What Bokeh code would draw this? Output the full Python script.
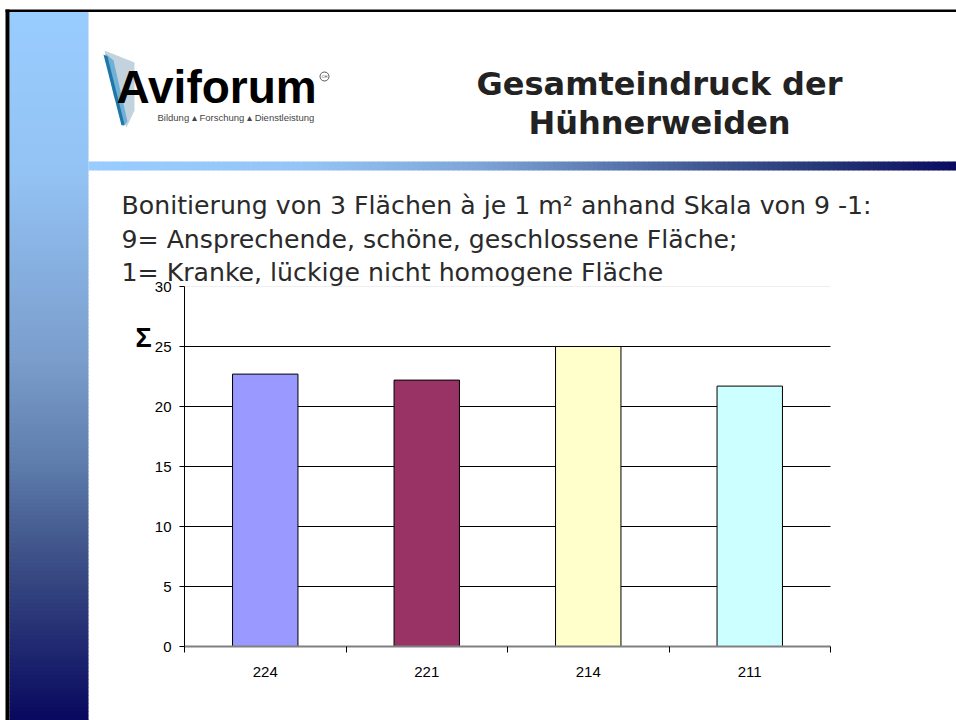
from bokeh.plotting import figure
from bokeh.models import (Range1d, FixedTicker, Label, LinearAxis, ColumnDataSource)
from bokeh.embed import file_html
from bokeh.resources import INLINE

# ---------------- data ----------------
categories = ["224", "221", "214", "211"]
values = [22.7, 22.2, 25.0, 21.7]
bar_colors = ["#9999FF", "#993366", "#FFFFCC", "#CCFFFF"]
y_ticks = [0, 5, 10, 15, 20, 25, 30]
grid_ticks = [5, 10, 15, 20, 25]

title_lines = ["Gesamteindruck der", "Hühnerweiden"]
body_lines = [
    "Bonitierung von 3 Flächen à je 1 m² anhand Skala von 9 -1:",
    "9= Ansprechende, schöne, geschlossene Fläche;",
    "1= Kranke, lückige nicht homogene Fläche",
]
axis_symbol = "Σ"
logo_name = "Aviforum"
logo_tagline = "Bildung ▴ Forschung ▴ Dienstleistung"
logo_badge = "CH"

# ---------------- geometry (page pixels) ----------------
PAGE_W, PAGE_H = 956, 720
FL, FR, FT, FB = 184, 830, 286, 646   # chart plot area on the page

n = len(categories)
y_max = y_ticks[-1]
centers = [i + 0.5 for i in range(n)]
bounds = list(range(n + 1))

# page coordinate system (y grows downward) for the slide decoration
p = figure(width=PAGE_W, height=PAGE_H,
           x_range=Range1d(0, PAGE_W), y_range=Range1d(PAGE_H, 0),
           output_backend="svg", toolbar_location=None,
           x_axis_location=None, y_axis_location=None,
           min_border=0, min_border_left=0, min_border_right=0,
           min_border_top=0, min_border_bottom=0)
p.outline_line_color = None
p.background_fill_color = "white"
p.border_fill_color = "white"
p.grid.visible = False

# chart coordinate system mapped onto the plot area
SX = (FR - FL) / n
SY = (FB - FT) / y_max
p.extra_x_ranges = {"cx": Range1d(-FL / SX, n + (PAGE_W - FR) / SX)}
p.extra_y_ranges = {"cy": Range1d(-(PAGE_H - FB) / SY, y_max + FT / SY)}

# ---------------- slide decorations ----------------
def hex2rgb(h):
    h = h.lstrip("#")
    return tuple(int(h[i:i + 2], 16) for i in (0, 2, 4))

def color_at(stops, t):
    for (t0, c0), (t1, c1) in zip(stops[:-1], stops[1:]):
        if t0 <= t <= t1:
            f = 0 if t1 == t0 else (t - t0) / (t1 - t0)
            a, b = hex2rgb(c0), hex2rgb(c1)
            return "#%02x%02x%02x" % tuple(round(a[k] + (b[k] - a[k]) * f) for k in range(3))
    return stops[-1][1]

L, R, T, B, C = [], [], [], [], []

# left vertical gradient bar
left_stops = [(11, "#99ccff"), (170, "#93c3f4"), (360, "#7a9dcc"), (460, "#5f7eae"),
              (560, "#3c4f86"), (720, "#08085e")]
y = 11
while y < PAGE_H:
    y2 = min(y + 4, PAGE_H)
    L.append(9); R.append(88); T.append(y); B.append(y2 + 0.6)
    C.append(color_at(left_stops, (y + y2) / 2))
    y = y2

# header horizontal gradient bar
head_stops = [(88, "#99ccff"), (300, "#95c5f6"), (480, "#7da4d6"), (713, "#3e5590"),
              (813, "#283a78"), (956, "#0a0a60")]
x = 88
while x < PAGE_W:
    x2 = min(x + 5, PAGE_W)
    L.append(x); R.append(x2 + 0.6); T.append(161); B.append(170)
    C.append(color_at(head_stops, (x + x2) / 2))
    x = x2

# slide border (top and left edges)
L += [5, 5]; R += [PAGE_W, 9]; T += [9, 9]; B += [11.5, PAGE_H]; C += ["#000000", "#000000"]

deco = ColumnDataSource(dict(left=L, right=R, top=T, bottom=B, color=C))
p.quad(left="left", right="right", top="top", bottom="bottom", source=deco,
       fill_color="color", line_color=None)

# logo swoosh
p.patches(xs=[[104, 134, 134, 126, 113], [105, 113, 127, 123], [103, 107, 124, 121]],
          ys=[[50, 62, 110, 127, 95], [53, 60, 121, 126], [54, 56, 124, 125]],
          fill_color=["#c3d3de", "#6fb0d6", "#1f76a8"], line_color=None)

def mid(baseline, size, k=0.35):
    return baseline - k * size

p.add_layout(Label(x=116, y=mid(103, 46), text=logo_name, text_font="Liberation Sans",
                   text_font_style="bold", text_font_size="46px", text_color="#000000",
                   text_align="left", text_baseline="middle"))
p.add_layout(Label(x=157, y=mid(120, 9.5), text=logo_tagline, text_font="Liberation Sans",
                   text_font_size="9.5px", text_color="#444444",
                   text_align="left", text_baseline="middle"))
p.circle(x=[324], y=[76], radius=4.5, fill_color="white", line_color="#555555", line_width=1)
p.add_layout(Label(x=324, y=76, text=logo_badge, text_font="Liberation Sans",
                   text_font_size="4px", text_color="#444444",
                   text_align="center", text_baseline="middle"))

# title
for i, t in enumerate(title_lines):
    p.add_layout(Label(x=659, y=mid(95 + 39 * i, 32), text=t, text_font="DejaVu Sans",
                       text_font_style="bold", text_font_size="32px", text_color="#222222",
                       text_align="center", text_baseline="middle"))

# body text
for i, t in enumerate(body_lines):
    p.add_layout(Label(x=121, y=mid(214 + 33.5 * i, 25.2), text=t, text_font="DejaVu Sans",
                       text_font_size="25.2px", text_color="#2a2a2a",
                       text_align="left", text_baseline="middle"))

# ---------------- chart ----------------
grid_src = ColumnDataSource(dict(y=grid_ticks, x0=[bounds[0]] * len(grid_ticks),
                                 x1=[bounds[-1]] * len(grid_ticks)))
p.segment(x0="x0", x1="x1", y0="y", y1="y", source=grid_src, line_color="#000000",
          line_width=1, x_range_name="cx", y_range_name="cy")
p.segment(x0=[bounds[0]], x1=[bounds[-1]], y0=[y_max], y1=[y_max], line_color="#eeeeee",
          line_width=1, x_range_name="cx", y_range_name="cy")

src = ColumnDataSource(dict(x=centers, top=values, color=bar_colors, cat=categories))
p.vbar(x="x", top="top", bottom=0, width=0.405, source=src,
       fill_color="color", line_color="#000000", line_width=1,
       x_range_name="cx", y_range_name="cy")

yax = LinearAxis(ticker=FixedTicker(ticks=y_ticks), x_range_name="cx", y_range_name="cy",
                 fixed_location=0, bounds=(y_ticks[0], y_ticks[-1]))
yax.axis_line_color = "#000000"
yax.major_tick_out = 5
yax.major_tick_in = 0
yax.minor_tick_out = 0
yax.major_tick_line_color = "#000000"
yax.major_label_standoff = 8
yax.major_label_text_font = "Liberation Sans"
yax.major_label_text_font_size = "15px"
yax.major_label_text_color = "#000000"
p.add_layout(yax, "left")

xax = LinearAxis(ticker=FixedTicker(ticks=centers, minor_ticks=bounds),
                 major_label_overrides={c: k for c, k in zip(centers, categories)},
                 x_range_name="cx", y_range_name="cy",
                 fixed_location=0, bounds=(bounds[0], bounds[-1]))
xax.axis_line_color = "#808080"
xax.axis_line_width = 2
xax.major_tick_out = 0
xax.major_tick_in = 0
xax.minor_tick_out = 6
xax.minor_tick_in = 0
xax.minor_tick_line_color = "#000000"
xax.major_label_standoff = 14
xax.major_label_text_font = "Liberation Sans"
xax.major_label_text_font_size = "15px"
xax.major_label_text_color = "#000000"
p.add_layout(xax, "below")

p.add_layout(Label(x=143, y=337, text=axis_symbol, text_font="Liberation Sans",
                   text_font_style="bold", text_font_size="27px", text_color="#000000",
                   text_align="center", text_baseline="middle"))

open("out.html", "w").write(file_html(p, INLINE))
